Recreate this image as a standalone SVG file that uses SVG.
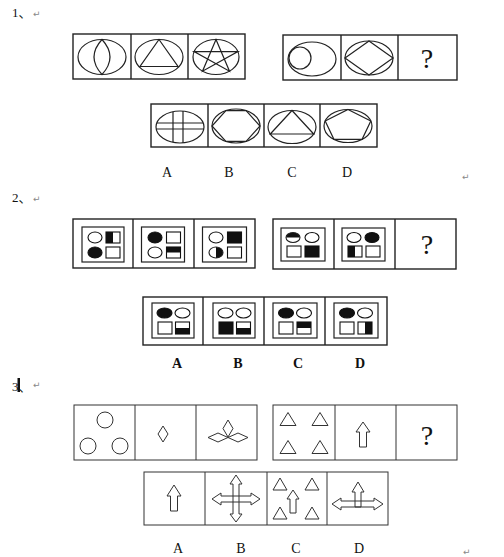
<svg xmlns="http://www.w3.org/2000/svg" width="504" height="557" viewBox="0 0 504 557">
<style>
.box{fill:none;stroke:#222;stroke-width:1.4}
.ln{fill:none;stroke:#222;stroke-width:1.2}
.thin{fill:none;stroke:#333;stroke-width:1}
.blk{fill:#111;stroke:none}
.eo{fill:#fff;stroke:#111;stroke-width:1.1}
.ef{fill:#111;stroke:#111;stroke-width:1.1}
.num{font-family:"Liberation Serif","Noto Sans CJK SC",serif;font-size:13px;fill:#111}
.ret{font-family:"DejaVu Sans",sans-serif;font-size:9px;fill:#888}
.lab{font-family:"Liberation Serif",serif;font-size:14px;fill:#111;text-anchor:middle}
.q{font-family:"Liberation Serif",serif;font-size:28px;fill:#111;text-anchor:middle}
</style>
<rect width="504" height="557" fill="#fff"/>

<!-- Problem 1 -->
<g id="p1-title"><text class="num" x="12" y="17">1、</text><text class="ret" x="33" y="17">↵</text></g>
<g id="p1-row-left">
<rect class="box" x="73" y="34" width="172" height="45"/>
<line class="box" x1="131" y1="34" x2="131" y2="79"/>
<line class="box" x1="188" y1="34" x2="188" y2="79"/>
<ellipse class="ln" cx="102" cy="57" rx="24" ry="17.5"/>
<path class="ln" d="M102,39.5 Q86,57 102,74.5 Q118,57 102,39.5Z"/>
<ellipse class="ln" cx="159" cy="57" rx="24" ry="17.5"/>
<polygon class="ln" points="159,39.5 178,66.5 140,66.5"/>
<ellipse class="ln" cx="216" cy="57" rx="23" ry="17.5"/>
<polygon class="ln" points="216,39.5 229.5,71.2 194.1,51.6 237.9,51.6 202.5,71.2"/>
</g>
<g id="p1-row-right">
<rect class="box" x="283" y="35" width="174" height="45"/>
<line class="box" x1="341" y1="35" x2="341" y2="80"/>
<line class="box" x1="398" y1="35" x2="398" y2="80"/>
<ellipse class="ln" cx="312" cy="59" rx="24" ry="17"/>
<circle class="ln" cx="300" cy="58" r="11"/>
<ellipse class="ln" cx="369" cy="58" rx="24" ry="17"/>
<polygon class="ln" points="369,41 393,58 369,75 345,58"/>
<text class="q" x="427" y="68">?</text>
</g>
<g id="p1-options">
<rect class="box" x="151" y="104" width="226" height="43"/>
<line class="box" x1="208" y1="104" x2="208" y2="147"/>
<line class="box" x1="264" y1="104" x2="264" y2="147"/>
<line class="box" x1="320" y1="104" x2="320" y2="147"/>
<ellipse class="ln" cx="180" cy="127" rx="24" ry="16"/>
<line class="ln" x1="156.8" y1="123" x2="203.2" y2="123"/>
<line class="ln" x1="156.2" y1="129" x2="203.8" y2="129"/>
<line class="ln" x1="173" y1="111.7" x2="173" y2="142.3"/>
<line class="ln" x1="183" y1="111.1" x2="183" y2="142.9"/>
<ellipse class="ln" cx="236" cy="126" rx="24" ry="17"/>
<polygon class="ln" points="225.9,110.6 246.1,110.6 260,126 246.1,141.4 225.9,141.4 212,126"/>
<ellipse class="ln" cx="292" cy="127" rx="24" ry="16.5"/>
<polygon class="ln" points="292,110.5 313.7,134 270.3,134"/>
<ellipse class="ln" cx="348" cy="126" rx="24" ry="16.5"/>
<polygon class="ln" points="348,109.5 370.8,120.9 362.1,139.3 333.9,139.3 325.2,120.9"/>
<text class="lab" x="167" y="177">A</text>
<text class="lab" x="229" y="177">B</text>
<text class="lab" x="292" y="177">C</text>
<text class="lab" x="347" y="177">D</text>
<text class="ret" x="462" y="180">↵</text>
</g>

<!-- Problem 2 -->
<g id="p2-title"><text class="num" x="12" y="202">2、</text><text class="ret" x="33" y="202">↵</text></g>
<g id="p2-row-left">
<rect class="box" x="73" y="219" width="182" height="49"/>
<line class="box" x1="133" y1="219" x2="133" y2="268"/>
<line class="box" x1="194" y1="219" x2="194" y2="268"/>
<!-- cell 1 -->
<rect class="ln" x="82" y="227" width="42" height="35"/>
<ellipse class="eo" cx="95" cy="237.5" rx="7" ry="5.5"/>
<ellipse class="ef" cx="95" cy="252.5" rx="7" ry="5.5"/>
<rect class="eo" x="106" y="232" width="14" height="11"/>
<rect class="blk" x="106" y="232" width="7" height="11"/>
<rect class="eo" x="106" y="247" width="14" height="11" fill="none"/>
<!-- cell 2 -->
<rect class="ln" x="141.5" y="227" width="43" height="35"/>
<ellipse class="ef" cx="155" cy="237.5" rx="7" ry="5.5"/>
<ellipse class="eo" cx="155" cy="252.5" rx="7" ry="5.5"/>
<rect class="eo" x="166.5" y="232" width="14" height="11"/>
<rect class="blk" x="166.5" y="247" width="14" height="5.5"/>
<rect class="eo" x="166.5" y="247" width="14" height="11" style="fill:none"/>
<!-- cell 3 -->
<rect class="ln" x="202.5" y="227" width="44" height="35"/>
<ellipse class="eo" cx="216" cy="237.5" rx="7" ry="5.5"/>
<path class="blk" d="M216,247 A7,5.5 0 0 1 216,258 Z"/>
<ellipse class="ln" cx="216" cy="252.5" rx="7" ry="5.5" style="stroke-width:1.1"/>
<rect class="ef" x="227.5" y="232" width="14" height="11"/>
<rect class="eo" x="227.5" y="247" width="14" height="11"/>
</g>
<g id="p2-row-right">
<rect class="box" x="273" y="219" width="183" height="50"/>
<line class="box" x1="334" y1="219" x2="334" y2="269"/>
<line class="box" x1="395" y1="219" x2="395" y2="269"/>
<!-- cell 1 -->
<rect class="ln" x="281" y="228" width="44" height="33"/>
<path class="blk" d="M286,237.5 A7,5 0 0 1 300,237.5 Z"/>
<ellipse class="ln" cx="293" cy="237.5" rx="7" ry="5" style="stroke-width:1.1"/>
<ellipse class="eo" cx="312" cy="237.5" rx="7" ry="5"/>
<rect class="eo" x="287" y="246" width="14" height="11"/>
<rect class="ef" x="305" y="246" width="14" height="11"/>
<!-- cell 2 -->
<rect class="ln" x="342" y="228" width="43" height="33"/>
<ellipse class="eo" cx="354" cy="237.5" rx="7" ry="5"/>
<ellipse class="ef" cx="372" cy="237.5" rx="7" ry="5"/>
<rect class="blk" x="348" y="246" width="7" height="11"/>
<rect class="eo" x="348" y="246" width="14" height="11" style="fill:none"/>
<rect class="eo" x="366" y="246" width="14" height="11"/>
<text class="q" x="427" y="254">?</text>
</g>
<g id="p2-options">
<rect class="box" x="143" y="297" width="244" height="48"/>
<line class="box" x1="203" y1="297" x2="203" y2="345"/>
<line class="box" x1="264" y1="297" x2="264" y2="345"/>
<line class="box" x1="325" y1="297" x2="325" y2="345"/>
<!-- A -->
<rect class="ln" x="152" y="303" width="42" height="35"/>
<ellipse class="ef" cx="164.5" cy="313" rx="7.5" ry="5"/>
<ellipse class="eo" cx="182.5" cy="313" rx="7.5" ry="5"/>
<rect class="eo" x="158" y="322" width="14" height="12"/>
<rect class="blk" x="175.5" y="328" width="14" height="6"/>
<rect class="eo" x="175.5" y="322" width="14" height="12" style="fill:none"/>
<!-- B -->
<rect class="ln" x="213" y="303" width="42" height="35"/>
<ellipse class="eo" cx="225.5" cy="313" rx="7.5" ry="5"/>
<ellipse class="eo" cx="243.5" cy="313" rx="7.5" ry="5"/>
<rect class="ef" x="219" y="322" width="14" height="12"/>
<rect class="blk" x="236.5" y="328" width="14" height="6"/>
<rect class="eo" x="236.5" y="322" width="14" height="12" style="fill:none"/>
<!-- C -->
<rect class="ln" x="273" y="303" width="44" height="35"/>
<ellipse class="ef" cx="286" cy="313" rx="7.5" ry="5"/>
<ellipse class="eo" cx="304" cy="313" rx="7.5" ry="5"/>
<rect class="eo" x="279" y="322" width="14" height="12"/>
<rect class="blk" x="297" y="322" width="14" height="6"/>
<rect class="eo" x="297" y="322" width="14" height="12" style="fill:none"/>
<!-- D -->
<rect class="ln" x="334" y="303" width="44" height="35"/>
<ellipse class="ef" cx="347" cy="313" rx="7.5" ry="5"/>
<ellipse class="eo" cx="365" cy="313" rx="7.5" ry="5"/>
<rect class="eo" x="340" y="322" width="14" height="12"/>
<rect class="blk" x="365" y="322" width="7" height="12"/>
<rect class="eo" x="358" y="322" width="14" height="12" style="fill:none"/>
<text class="lab" x="177" y="368" font-weight="bold">A</text>
<text class="lab" x="238" y="368" font-weight="bold">B</text>
<text class="lab" x="298" y="368" font-weight="bold">C</text>
<text class="lab" x="360" y="368" font-weight="bold">D</text>
</g>

<!-- Problem 3 -->
<g id="p3-title"><text class="num" x="12" y="391">3、</text><rect class="blk" x="17.5" y="378" width="2.5" height="14"/><text class="ret" x="33" y="388">↵</text></g>
<g id="p3-row-left">
<rect class="thin" x="74" y="405" width="183" height="55"/>
<line class="thin" x1="135" y1="405" x2="135" y2="460"/>
<line class="thin" x1="196" y1="405" x2="196" y2="460"/>
<circle class="thin" cx="105" cy="420" r="8"/>
<circle class="thin" cx="88" cy="446" r="8"/>
<circle class="thin" cx="120" cy="446" r="8"/>
<polygon class="thin" points="163,426 168,434 163,442 158,434"/>
<polygon class="thin" points="228,420 233,428.5 228,437 223,428.5"/>
<polygon class="thin" points="208,437.5 218,433 228,437.5 218,442"/>
<polygon class="thin" points="228,437.5 238,433 248,437.5 238,442"/>
</g>
<g id="p3-row-right">
<rect class="thin" x="273" y="405" width="184" height="55"/>
<line class="thin" x1="335" y1="405" x2="335" y2="460"/>
<line class="thin" x1="396" y1="405" x2="396" y2="460"/>
<polygon class="thin" points="288,412.5 296,425.5 280,425.5"/>
<polygon class="thin" points="320,412.5 328,425.5 312,425.5"/>
<polygon class="thin" points="288,440.5 296,453.5 280,453.5"/>
<polygon class="thin" points="320,440.5 328,453.5 312,453.5"/>
<polygon class="thin" points="363,422 370,432 366.5,432 366.5,447 359.5,447 359.5,432 356,432"/>
<text class="q" x="427" y="445">?</text>
</g>
<g id="p3-options">
<rect class="thin" x="144" y="472" width="244" height="53"/>
<line class="thin" x1="205" y1="472" x2="205" y2="525"/>
<line class="thin" x1="267" y1="472" x2="267" y2="525"/>
<line class="thin" x1="327" y1="472" x2="327" y2="525"/>
<!-- A -->
<polygon class="thin" points="174,485 181,496 177.5,496 177.5,511 170.5,511 170.5,496 167,496"/>
<!-- B -->
<polygon class="thin" points="212,499 221,493 221,496 251,496 251,493 260,499 251,505 251,502 221,502 221,505"/>
<polygon class="thin" points="236,475 242,484 239,484 239,514 242,514 236,522 230,514 233,514 233,484 230,484"/>
<!-- C -->
<polygon class="thin" points="280,478 287,490 273,490"/>
<polygon class="thin" points="312,478 319,490 305,490"/>
<polygon class="thin" points="280,507 287,519 273,519"/>
<polygon class="thin" points="312,507 319,519 305,519"/>
<polygon class="thin" points="293,490 299,499 296,499 296,513 290,513 290,499 287,499"/>
<!-- D -->
<polygon class="thin" points="332,504 341,498 341,501 374,501 374,498 383,504 374,510 374,507 341,507 341,510"/>
<polygon class="thin" points="358,482 364,492 361,492 361,507 355,507 355,492 352,492"/>
<text class="lab" x="178" y="553">A</text>
<text class="lab" x="241" y="553">B</text>
<text class="lab" x="296" y="553">C</text>
<text class="lab" x="359" y="553">D</text>
<text class="ret" x="463" y="555">↵</text>
</g>
</svg>
